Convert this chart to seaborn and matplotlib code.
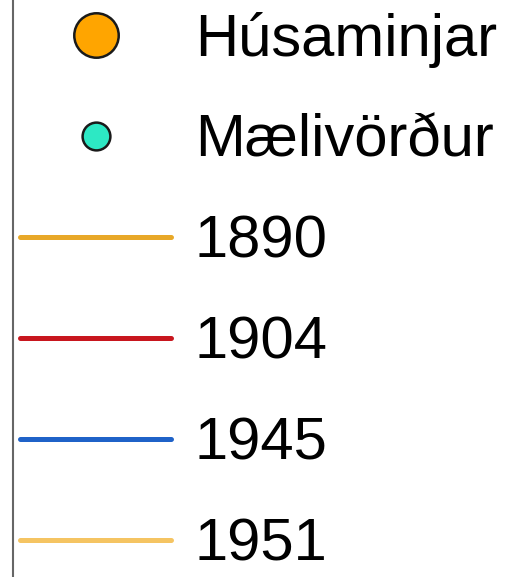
import matplotlib
matplotlib.use('Agg')
import matplotlib.pyplot as plt
from matplotlib.lines import Line2D
import seaborn as sns

sns.set_style('white')
plt.rcParams['font.family'] = ['Liberation Sans', 'DejaVu Sans']

point_labels = ['Húsaminjar', 'Mælivörður']
point_colors = ['#ffa500', '#2de8c4']
point_sizes = [32, 20]

line_labels = ['1890', '1904', '1945', '1951']
line_colors = ['#e8a828', '#c8161e', '#1f62c8', '#f5c462']

fig = plt.figure(figsize=(5.26, 5.77), dpi=100)
ax = fig.add_axes([13 / 526, -0.01, 1.0, 1.02])
ax.set_xticks([])
ax.set_yticks([])
for side in ['top', 'right', 'bottom']:
    ax.spines[side].set_visible(False)
ax.spines['left'].set_color('#666666')
ax.spines['left'].set_linewidth(1.5)

handles = []
for c, s in zip(point_colors, point_sizes):
    handles.append(Line2D([], [], linestyle='none', marker='o', markersize=s,
                          markerfacecolor=c, markeredgecolor='#1a1a1a', markeredgewidth=1.8))
for c in line_colors:
    handles.append(Line2D([], [], color=c, linewidth=3.6, solid_capstyle='round'))

fig.legend(handles=handles, labels=point_labels + line_labels,
           loc='upper left', bbox_to_anchor=(20 / 526, 1 - 12 / 577),
           frameon=False, fontsize=43, handlelength=2.53, handletextpad=0.4,
           labelspacing=0.77, borderpad=0, borderaxespad=0, labelcolor='black')

fig.savefig('out.png', dpi=100)
